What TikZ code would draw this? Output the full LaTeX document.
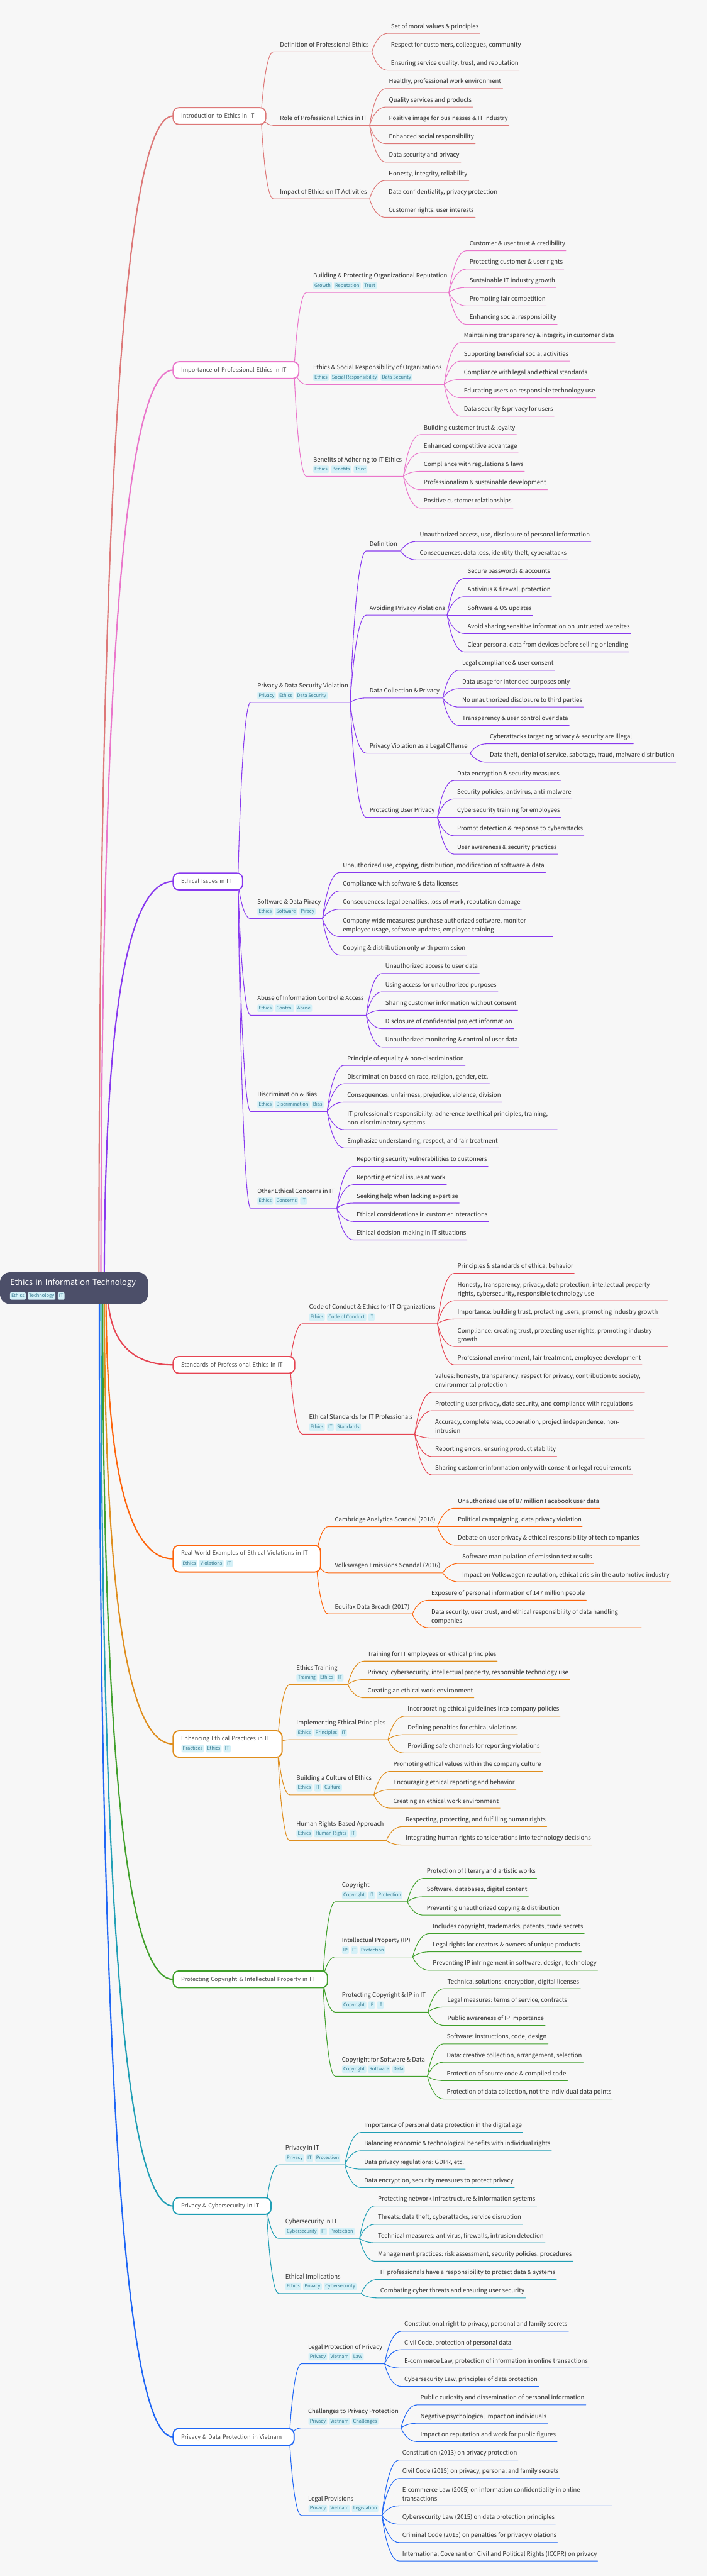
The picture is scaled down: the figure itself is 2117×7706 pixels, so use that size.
\documentclass[tikz,border=0pt]{standalone}
\usepackage{fontspec}
\setmainfont{Noto Sans CJK SC}
\newfontfamily\apofont{Noto Sans}
\frenchspacing
\usetikzlibrary{calc}
\pgfdeclarelayer{back}\pgfdeclarelayer{links}
\pgfsetlayers{back,links,main}
\newcounter{lfc}\newcounter{tagc}
\definecolor{paper}{HTML}{F7F7F7}
\definecolor{rootc}{HTML}{4C4F69}
\definecolor{tagbg}{HTML}{D5F1F8}
\definecolor{tagfg}{HTML}{33788F}
\definecolor{flam}{HTML}{DD7878}
\definecolor{pinkc}{HTML}{EA76CB}
\definecolor{mauve}{HTML}{8839EF}
\definecolor{maroon}{HTML}{E64553}
\definecolor{peach}{HTML}{FE640B}
\definecolor{yell}{HTML}{DF8E1D}
\definecolor{grn}{HTML}{40A02B}
\definecolor{teal2}{HTML}{209FB5}
\definecolor{blue2}{HTML}{1E66F5}
\tikzset{
  txt/.style={anchor=base west,inner sep=0pt,outer sep=0pt,text=black!82,font=\fontsize{18}{26.4}\selectfont},
  conn/.style={draw=cur,line width=2pt,line cap=round},
  stem/.style={draw=cur,line width=4pt},
  branchbox/.style={anchor=west,draw=cur,fill=white,line width=3.5pt,rounded corners=17pt,inner xsep=24pt,inner ysep=0pt,outer sep=0pt,align=left,text=black!73,font=\fontsize{17.2}{26.4}\selectfont},
  rootbox/.style={anchor=west,fill=rootc,rounded corners=30pt,inner xsep=31pt,inner ysep=0pt,outer sep=0pt,align=left,text=white,font=\fontsize{24}{30}\selectfont},
  tagbox/.style={fill=tagbg,text=tagfg,rounded corners=4pt,inner sep=0pt,outer sep=0pt,minimum height=22pt,text height=11.5pt,text depth=3.5pt,font=\fontsize{14}{18}\selectfont}
}
\newcommand\twol[2]{\vbox{\baselineskip=26.4pt\hbox{#1}\hbox{#2}}}
% name, parent, pad, raise, text x, line y, right x, text
\newcommand\knot[8]{%
  \node[txt] (#1) at (#5,#6-#4) {#8};
  \coordinate (#1i) at (#5-#3,#6);
  \coordinate (#1o) at (#7,#6);
  \begin{pgfonlayer}{links}
    \coordinate (h) at ($(#2o)!.3!(#1i)$);
    \draw[conn] (#2o) .. controls (#2o) and (h |- #1i) .. (#1i) -- (#1o);
  \end{pgfonlayer}}
\newcommand\lf[5]{\stepcounter{lfc}\knot{lf\arabic{lfc}}{#1}{10}{15}{#2}{#3}{#4}{#5}}
\newcommand\subA[6]{\knot{#1}{#2}{20}{15}{#3}{#4}{#5}{#6}}
\newcommand\subT[6]{\knot{#1}{#2}{20}{44}{#3}{#4}{#5}{#6}}
\newcommand\subB[6]{\knot{#1}{#2}{10}{15}{#3}{#4}{#5}{#6}}
\newcommand\tags[2]{\foreach \a/\b/\t in {#2}{\stepcounter{tagc}%
  \node[tagbox,minimum width={(\b-\a)*1pt}] (tag\arabic{tagc}) at ({(\a+\b)/2},#1+11) {\t};}}
% name, colour, stem x, centre y, width, height, depth, text
\newcommand\branch[8]{%
  \colorlet{cur}{#2}
  \coordinate (#1s) at (#3,3853.5);
  \node[branchbox,minimum width=#5pt,minimum height=#6pt,text width={(#5-48)*1pt},text height=13pt,text depth=#7pt] (#1) at (518,#4) {\mbox{#8}};
  \coordinate (#1o) at ($(#1.east)+(-14,0)$);
  \begin{pgfonlayer}{links}
    \draw[stem] (#1s) .. controls ($(#1s)!.667!(#1s |- #1.west)$) and ($(#1.west)!.667!(#1s |- #1.west)$) .. (#1.west);
  \end{pgfonlayer}}
\begin{document}
\begin{tikzpicture}[x=1pt,y=-1pt]
\useasboundingbox (0,0) rectangle (2117,7706);
\begin{pgfonlayer}{back}
  \fill[paper] (0,0) rectangle (2117,7706);
\end{pgfonlayer}
\node[rootbox,minimum width=443pt,minimum height=95pt,text width=381pt,text height=18pt,text depth=35pt] (root) at (0,3853.5) {\mbox{Ethics in Information Technology}};
\tags{3866}{30/77/Ethics,83/166/Technology,173/193/IT}

% ---------- 1
\branch{b1}{flam}{296}{347}{277}{50}{1}{Introduction to Ethics in IT}
\subA{a1}{b1}{838}{155}{1113}{Definition of Professional Ethics}
\lf{a1}{1170}{100}{1435}{Set of moral values \& principles}
\lf{a1}{1170}{155}{1562}{Respect for customers, colleagues, community}
\lf{a1}{1170}{210}{1554}{Ensuring service quality, trust, and reputation}
\subA{a2}{b1}{838}{375}{1106}{Role of Professional Ethics in IT}
\lf{a2}{1164}{265}{1504}{Healthy, professional work environment}
\lf{a2}{1164}{320}{1415}{Quality services and products}
\lf{a2}{1164}{375}{1523}{Positive image for businesses \& IT industry}
\lf{a2}{1164}{430}{1422}{Enhanced social responsibility}
\lf{a2}{1164}{485}{1379}{Data security and privacy}
\subA{a3}{b1}{838}{595}{1106}{Impact of Ethics on IT Activities}
\lf{a3}{1163}{540}{1403}{Honesty, integrity, reliability}
\lf{a3}{1163}{595}{1492}{Data confidentiality, privacy protection}
\lf{a3}{1163}{650}{1422}{Customer rights, user interests}

% ---------- 2
\branch{b2}{pinkc}{302}{1107}{376}{50}{1}{Importance of Professional Ethics in IT}
\subT{c1}{b2}{937}{875}{1343}{Building \& Protecting Organizational Reputation}
\tags{843}{937/993/Growth,999/1079/Reputation,1086/1127/Trust}
\lf{c1}{1405}{750}{1693}{Customer \& user trust \& credibility}
\lf{c1}{1405}{805}{1687}{Protecting customer \& user rights}
\lf{c1}{1405}{860}{1664}{Sustainable IT industry growth}
\lf{c1}{1405}{915}{1635}{Promoting fair competition}
\lf{c1}{1405}{970}{1667}{Enhancing social responsibility}
\subT{c2}{b2}{937}{1150}{1329}{Ethics \& Social Responsibility of Organizations}
\tags{1118}{937/984/Ethics,990/1131/Social Responsibility,1139/1234/Data Security}
\lf{c2}{1388}{1025}{1840}{Maintaining transparency \& integrity in customer data}
\lf{c2}{1388}{1080}{1704}{Supporting beneficial social activities}
\lf{c2}{1388}{1135}{1760}{Compliance with legal and ethical standards}
\lf{c2}{1388}{1190}{1783}{Educating users on responsible technology use}
\lf{c2}{1388}{1245}{1658}{Data security \& privacy for users}
\subT{c3}{b2}{937}{1425}{1207}{Benefits of Adhering to IT Ethics}
\tags{1393}{937/984/Ethics,990/1051/Benefits,1058/1099/Trust}
\lf{c3}{1268}{1300}{1545}{Building customer trust \& loyalty}
\lf{c3}{1268}{1355}{1551}{Enhanced competitive advantage}
\lf{c3}{1268}{1410}{1569}{Compliance with regulations \& laws}
\lf{c3}{1268}{1465}{1638}{Professionalism \& sustainable development}
\lf{c3}{1268}{1520}{1535}{Positive customer relationships}

% ---------- 3
\branch{b3}{mauve}{312}{2637}{208}{50}{1}{Ethical Issues in IT}
\subT{d1}{b3}{770}{2101}{1048}{Privacy \& Data Security Violation}
\tags{2070}{770/825/Privacy,832/878/Ethics,885/980/Data Security}
\subB{e1}{d1}{1106}{1648}{1199}{Definition}
\lf{e1}{1256}{1620}{1768}{Unauthorized access, use, disclosure of personal information}
\lf{e1}{1256}{1675}{1698}{Consequences: data loss, identity theft, cyberattacks}
\subB{e2}{d1}{1106}{1840}{1338}{Avoiding Privacy Violations}
\lf{e2}{1399}{1730}{1649}{Secure passwords \& accounts}
\lf{e2}{1399}{1785}{1650}{Antivirus \& firewall protection}
\lf{e2}{1399}{1840}{1594}{Software \& OS updates}
\lf{e2}{1399}{1895}{1887}{Avoid sharing sensitive information on untrusted websites}
\lf{e2}{1399}{1950}{1881}{Clear personal data from devices before selling or lending}
\subB{e3}{d1}{1106}{2088}{1325}{Data Collection \& Privacy}
\lf{e3}{1383}{2005}{1659}{Legal compliance \& user consent}
\lf{e3}{1383}{2060}{1707}{Data usage for intended purposes only}
\lf{e3}{1383}{2115}{1745}{No unauthorized disclosure to third parties}
\lf{e3}{1383}{2170}{1703}{Transparency \& user control over data}
\subB{e4}{d1}{1106}{2253}{1407}{Privacy Violation as a Legal Offense}
\lf{e4}{1466}{2225}{1895}{Cyberattacks targeting privacy \& security are illegal}
\lf{e4}{1466}{2280}{2022}{Data theft, denial of service, sabotage, fraud, malware distribution}
\subB{e5}{d1}{1106}{2445}{1309}{Protecting User Privacy}
\lf{e5}{1368}{2335}{1677}{Data encryption \& security measures}
\lf{e5}{1368}{2390}{1712}{Security policies, antivirus, anti-malware}
\lf{e5}{1368}{2445}{1679}{Cybersecurity training for employees}
\lf{e5}{1368}{2500}{1747}{Prompt detection \& response to cyberattacks}
\lf{e5}{1368}{2555}{1669}{User awareness \& security practices}
\subT{d2}{b3}{770}{2748}{965}{Software \& Data Piracy}
\tags{2716}{770/817/Ethics,823/889/Software,896/944/Piracy}
\lf{d2}{1026}{2610}{1632}{Unauthorized use, copying, distribution, modification of software \& data}
\lf{d2}{1026}{2665}{1376}{Compliance with software \& data licenses}
\lf{d2}{1026}{2720}{1560}{Consequences: legal penalties, loss of work, reputation damage}
\lf{d2}{1026}{2802}{1653}{\twol{Company-wide measures: purchase authorized software, monitor}{employee usage, software updates, employee training}}
\lf{d2}{1026}{2857}{1397}{Copying \& distribution only with permission}
\subT{d3}{b3}{770}{3037}{1096}{Abuse of Information Control \& Access}
\tags{3005}{770/817/Ethics,823/880/Control,885/934/Abuse}
\lf{d3}{1153}{2912}{1434}{Unauthorized access to user data}
\lf{d3}{1153}{2967}{1490}{Using access for unauthorized purposes}
\lf{d3}{1153}{3022}{1549}{Sharing customer information without consent}
\lf{d3}{1153}{3077}{1537}{Disclosure of confidential project information}
\lf{d3}{1153}{3132}{1553}{Unauthorized monitoring \& control of user data}
\subT{d4}{b3}{770}{3325}{979}{Discrimination \& Bias}
\tags{3293}{770/817/Ethics,823/927/Discrimination,933/968/Bias}
\lf{d4}{1039}{3187}{1392}{Principle of equality \& non-discrimination}
\lf{d4}{1039}{3242}{1465}{Discrimination based on race, religion, gender, etc.}
\lf{d4}{1039}{3297}{1503}{Consequences: unfairness, prejudice, violence, division}
\lf{d4}{1039}{3379}{1667}{\twol{IT professional{\apofont\char39}s responsibility: adherence to ethical principles, training,}{non-discriminatory systems}}
\lf{d4}{1039}{3434}{1493}{Emphasize understanding, respect, and fair treatment}
\subT{d5}{b3}{770}{3614}{1008}{Other Ethical Concerns in IT}
\tags{3582}{770/817/Ethics,823/892/Concerns,898/918/IT}
\lf{d5}{1067}{3489}{1460}{Reporting security vulnerabilities to customers}
\lf{d5}{1067}{3544}{1336}{Reporting ethical issues at work}
\lf{d5}{1067}{3599}{1374}{Seeking help when lacking expertise}
\lf{d5}{1067}{3654}{1462}{Ethical considerations in customer interactions}
\lf{d5}{1067}{3709}{1398}{Ethical decision-making in IT situations}

% ---------- 4
\branch{b4}{maroon}{322}{4083}{364}{50}{1}{Standards of Professional Ethics in IT}
\subT{f1}{b4}{925}{3960}{1309}{Code of Conduct \& Ethics for IT Organizations}
\tags{3929}{925/972/Ethics,978/1096/Code of Conduct,1102/1121/IT}
\lf{f1}{1369}{3809}{1718}{Principles \& standards of ethical behavior}
\lf{f1}{1369}{3891}{1997}{\twol{Honesty, transparency, privacy, data protection, intellectual property}{rights, cybersecurity, responsible technology use}}
\lf{f1}{1369}{3946}{1972}{Importance: building trust, protecting users, promoting industry growth}
\lf{f1}{1369}{4028}{1997}{\twol{Compliance: creating trust, protecting user rights, promoting industry}{growth}}
\lf{f1}{1369}{4083}{1921}{Professional environment, fair treatment, employee development}
\subT{f2}{b4}{925}{4290}{1241}{Ethical Standards for IT Professionals}
\tags{4258}{925/972/Ethics,978/999/IT,1004/1080/Standards}
\lf{f2}{1302}{4165}{1929}{\twol{Values: honesty, transparency, respect for privacy, contribution to society,}{environmental protection}}
\lf{f2}{1302}{4220}{1896}{Protecting user privacy, data security, and compliance with regulations}
\lf{f2}{1302}{4302}{1929}{\twol{Accuracy, completeness, cooperation, project independence, non-}{intrusion}}
\lf{f2}{1302}{4357}{1666}{Reporting errors, ensuring product stability}
\lf{f2}{1302}{4412}{1892}{Sharing customer information only with consent or legal requirements}

% ---------- 5
\branch{b5}{peach}{317}{4663}{441}{79}{35}{Real-World Examples of Ethical Violations in IT}
\tags{4666}{543/590/Ethics,596/669/Violations,675/696/IT}
\subA{g1}{b5}{1002}{4567}{1309}{Cambridge Analytica Scandal (2018)}
\lf{g1}{1370}{4512}{1796}{Unauthorized use of 87 million Facebook user data}
\lf{g1}{1370}{4567}{1742}{Political campaigning, data privacy violation}
\lf{g1}{1370}{4622}{1915}{Debate on user privacy \& ethical responsibility of tech companies}
\subA{g2}{b5}{1002}{4705}{1325}{Volkswagen Emissions Scandal (2016)}
\lf{g2}{1383}{4677}{1776}{Software manipulation of emission test results}
\lf{g2}{1383}{4732}{2007}{Impact on Volkswagen reputation, ethical crisis in the automotive industry}
\subA{g3}{b5}{1002}{4828}{1234}{Equifax Data Breach (2017)}
\lf{g3}{1291}{4787}{1754}{Exposure of personal information of 147 million people}
\lf{g3}{1291}{4869}{1919}{\twol{Data security, user trust, and ethical responsibility of data handling}{companies}}

% ---------- 6
\branch{b6}{yell}{312}{5217}{326}{79}{35}{Enhancing Ethical Practices in IT}
\tags{5220}{543/610/Practices,616/663/Ethics,669/690/IT}
\subT{k1}{b6}{887}{5039}{1041}{Ethics Training}
\tags{5008}{887/949/Training,954/1001/Ethics,1008/1028/IT}
\lf{k1}{1100}{4969}{1488}{Training for IT employees on ethical principles}
\lf{k1}{1100}{5024}{1704}{Privacy, cybersecurity, intellectual property, responsible technology use}
\lf{k1}{1100}{5079}{1418}{Creating an ethical work environment}
\subT{k2}{b6}{887}{5204}{1161}{Implementing Ethical Principles}
\tags{5173}{887/934/Ethics,940/1013/Principles,1019/1038/IT}
\lf{k2}{1220}{5134}{1676}{Incorporating ethical guidelines into company policies}
\lf{k2}{1220}{5189}{1549}{Defining penalties for ethical violations}
\lf{k2}{1220}{5244}{1618}{Providing safe channels for reporting violations}
\subT{k3}{b6}{887}{5369}{1119}{Building a Culture of Ethics}
\tags{5337}{887/934/Ethics,940/961/IT,967/1023/Culture}
\lf{k3}{1177}{5299}{1623}{Promoting ethical values within the company culture}
\lf{k3}{1177}{5354}{1544}{Encouraging ethical reporting and behavior}
\lf{k3}{1177}{5409}{1496}{Creating an ethical work environment}
\subT{k4}{b6}{887}{5506}{1156}{Human Rights-Based Approach}
\tags{5474}{887/934/Ethics,940/1041/Human Rights,1046/1066/IT}
\lf{k4}{1214}{5464}{1636}{Respecting, protecting, and fulfilling human rights}
\lf{k4}{1214}{5519}{1771}{Integrating human rights considerations into technology decisions}

% ---------- 7
\branch{b7}{grn}{307}{5921}{462}{50}{1}{Protecting Copyright \& Intellectual Property in IT}
\subT{m1}{b7}{1023}{5689}{1219}{Copyright}
\tags{5658}{1023/1096/Copyright,1102/1122/IT,1128/1204/Protection}
\lf{m1}{1277}{5619}{1606}{Protection of literary and artistic works}
\lf{m1}{1277}{5674}{1581}{Software, databases, digital content}
\lf{m1}{1277}{5729}{1677}{Preventing unauthorized copying \& distribution}
\subT{m2}{b7}{1023}{5854}{1235}{Intellectual Property (IP)}
\tags{5823}{1023/1044/IP,1050/1070/IT,1076/1153/Protection}
\lf{m2}{1295}{5784}{1748}{Includes copyright, trademarks, patents, trade secrets}
\lf{m2}{1295}{5839}{1739}{Legal rights for creators \& owners of unique products}
\lf{m2}{1295}{5894}{1788}{Preventing IP infringement in software, design, technology}
\subT{m3}{b7}{1023}{6019}{1281}{Protecting Copyright \& IP in IT}
\tags{5987}{1023/1096/Copyright,1102/1122/IP,1128/1148/IT}
\lf{m3}{1339}{5949}{1737}{Technical solutions: encryption, digital licenses}
\lf{m3}{1339}{6004}{1701}{Legal measures: terms of service, contracts}
\lf{m3}{1339}{6059}{1631}{Public awareness of IP importance}
\subT{m4}{b7}{1023}{6211}{1279}{Copyright for Software \& Data}
\tags{6179}{1023/1096/Copyright,1101/1168/Software,1174/1211/Data}
\lf{m4}{1337}{6114}{1640}{Software: instructions, code, design}
\lf{m4}{1337}{6169}{1745}{Data: creative collection, arrangement, selection}
\lf{m4}{1337}{6224}{1698}{Protection of source code \& compiled code}
\lf{m4}{1337}{6279}{1833}{Protection of data collection, not the individual data points}

% ---------- 8
\branch{b8}{teal2}{302}{6599}{293}{50}{1}{Privacy \& Cybersecurity in IT}
\subT{n1}{b8}{854}{6476}{1032}{Privacy in IT}
\tags{6444}{854/910/Privacy,916/937/IT,942/1018/Protection}
\lf{n1}{1090}{6379}{1564}{Importance of personal data protection in the digital age}
\lf{n1}{1090}{6434}{1650}{Balancing economic \& technological benefits with individual rights}
\lf{n1}{1090}{6489}{1392}{Data privacy regulations: GDPR, etc.}
\lf{n1}{1090}{6544}{1539}{Data encryption, security measures to protect privacy}
\subT{n2}{b8}{854}{6696}{1076}{Cybersecurity in IT}
\tags{6664}{854/952/Cybersecurity,958/978/IT,984/1061/Protection}
\lf{n2}{1131}{6599}{1606}{Protecting network infrastructure \& information systems}
\lf{n2}{1131}{6654}{1564}{Threats: data theft, cyberattacks, service disruption}
\lf{n2}{1131}{6709}{1631}{Technical measures: antivirus, firewalls, intrusion detection}
\lf{n2}{1131}{6764}{1715}{Management practices: risk assessment, security policies, procedures}
\subT{n3}{b8}{854}{6861}{1081}{Ethical Implications}
\tags{6829}{854/901/Ethics,907/963/Privacy,969/1067/Cybersecurity}
\lf{n3}{1138}{6819}{1665}{IT professionals have a responsibility to protect data \& systems}
\lf{n3}{1138}{6874}{1572}{Combating cyber threats and ensuring user security}

% ---------- 9
\branch{b9}{blue2}{297}{7290}{362}{50}{1}{Privacy \& Data Protection in Vietnam}
\subT{q1}{b9}{922}{7071}{1151}{Legal Protection of Privacy}
\tags{7039}{923/979/Privacy,985/1047/Vietnam,1053/1088/Law}
\lf{q1}{1210}{6974}{1701}{Constitutional right to privacy, personal and family secrets}
\lf{q1}{1210}{7029}{1534}{Civil Code, protection of personal data}
\lf{q1}{1210}{7084}{1763}{E-commerce Law, protection of information in online transactions}
\lf{q1}{1210}{7139}{1613}{Cybersecurity Law, principles of data protection}
\subT{q2}{b9}{922}{7263}{1200}{Challenges to Privacy Protection}
\tags{7232}{923/979/Privacy,985/1047/Vietnam,1053/1132/Challenges}
\lf{q2}{1258}{7194}{1753}{Public curiosity and dissemination of personal information}
\lf{q2}{1258}{7249}{1638}{Negative psychological impact on individuals}
\lf{q2}{1258}{7304}{1667}{Impact on reputation and work for public figures}
\subT{q3}{b9}{922}{7525}{1143}{Legal Provisions}
\tags{7493}{923/979/Privacy,985/1047/Vietnam,1053/1132/Legislation}
\lf{q3}{1204}{7359}{1550}{Constitution (2013) on privacy protection}
\lf{q3}{1204}{7414}{1675}{Civil Code (2015) on privacy, personal and family secrets}
\lf{q3}{1204}{7496}{1831}{\twol{E-commerce Law (2005) on information confidentiality in online}{transactions}}
\lf{q3}{1204}{7551}{1662}{Cybersecurity Law (2015) on data protection principles}
\lf{q3}{1204}{7606}{1668}{Criminal Code (2015) on penalties for privacy violations}
\lf{q3}{1204}{7661}{1788}{International Covenant on Civil and Political Rights (ICCPR) on privacy}
\end{tikzpicture}
\end{document}
